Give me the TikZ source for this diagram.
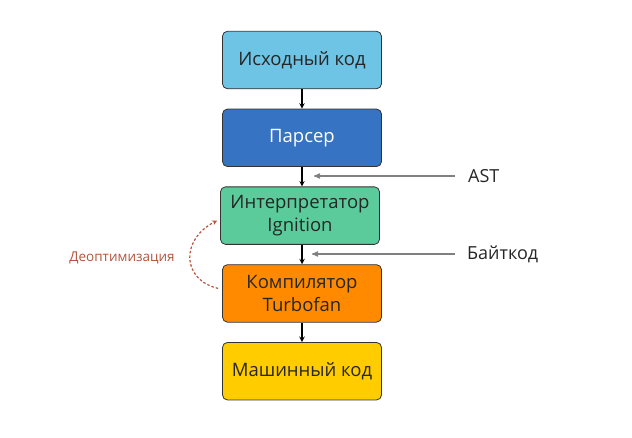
\documentclass[tikz,border=0pt]{standalone}
\usepackage{fontspec}
\setmainfont{Open Sans}
\usetikzlibrary{positioning, arrows}
\definecolor{srcblue}{HTML}{6EC4E4}
\definecolor{parsblue}{HTML}{3673C2}
\definecolor{igngreen}{HTML}{5BCB9B}
\definecolor{tfOrange}{HTML}{FF8A00}
\definecolor{machyellow}{HTML}{FFCC00}
\definecolor{deoptred}{HTML}{B5533C}
\tikzstyle{stage} = [rectangle, rounded corners=5pt, minimum width=159pt, minimum height=57.5pt, text centered, align=center, draw=black!80, line width=0.8pt, font=\fontsize{18.5}{23}\selectfont, text=black!85]
\tikzstyle{arrow} = [line width=1.4pt,->,>=stealth]
\tikzstyle{feed} = [gray, line width=1.2pt, ->, >=stealth']
\tikzstyle{lbl} = [anchor=west, font=\fontsize{18}{20}\selectfont, text=black!85, inner sep=0pt]

\begin{document}
\begin{tikzpicture}[x=1pt, y=-1pt, node distance=19.5pt]
\useasboundingbox (0,0) rectangle (632,437);

\node (src) [stage, fill=srcblue] at (302,60) {Исходный код};
\node (pars) [stage, fill=parsblue, text=white, below=of src] {Парсер};
\node (ign) [stage, fill=igngreen, below=of pars, xshift=-2pt] {Интерпретатор\\Ignition};
\node (tf) [stage, fill=tfOrange, below=of ign, xshift=2pt] {Компилятор\\Turbofan};
\node (mach) [stage, fill=machyellow, below=of tf] {Машинный код};

\node (ast) [lbl] at (468,176) {AST};
\node (bc) [lbl] at (467,254) {Байткод};
\node (deopt) [font=\fontsize{13.5}{16}\selectfont, text=deoptred] at (122,258) {Деоптимизация};
\coordinate (astend) at (314,176);
\coordinate (bcend) at (312,254);

\draw [arrow] (src) -- (pars);
\draw [arrow] (pars) -- (ign.north -| pars);
\draw [arrow] (ign.south -| tf) -- (tf);
\draw [arrow] (tf) -- (mach);
\draw [feed] ([xshift=-13pt]ast.west) -- (astend);
\draw [feed] ([xshift=-12pt]bc.west) -- (bcend);
\draw [arrow, deoptred, dash pattern=on 2.5pt off 2pt, line width=1.2pt] ([xshift=-4pt,yshift=5pt]tf.west) .. controls (182,280) and (180,240) .. ([xshift=-3pt,yshift=-5pt]ign.west);

\end{tikzpicture}
\end{document}
